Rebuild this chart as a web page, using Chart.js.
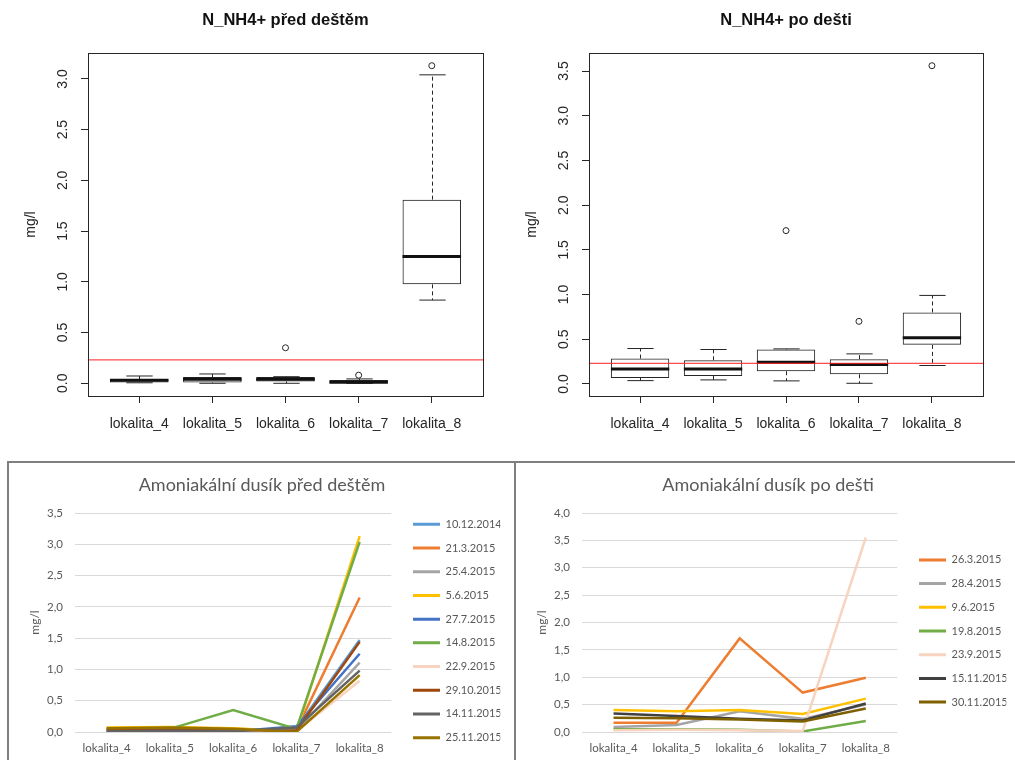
<!DOCTYPE html>
<html>
<head>
<meta charset="utf-8">
<script src="https://cdn.jsdelivr.net/npm/chart.js@4"></script>
<style>
  html, body { margin: 0; padding: 0; background: #fff; }
  body { width: 1015px; height: 760px; overflow: hidden; position: relative; }
  canvas { position: absolute; }
  #frame { position: absolute; left: 7px; top: 461px; width: 1020px; height: 400px;
           border-top: 2px solid #7f7f7f; border-left: 2px solid #7f7f7f; }
  #divider { position: absolute; left: 514px; top: 461px; width: 2px; height: 400px; background: #7f7f7f; }
</style>
</head>
<body>
<canvas id="boxBefore" width="507" height="440" style="left:0;top:0"></canvas>
<canvas id="boxAfter" width="508" height="440" style="left:507px;top:0"></canvas>
<div id="frame"></div>
<div id="divider"></div>
<canvas id="lineBefore" width="504" height="336" style="left:9px;top:463px"></canvas>
<canvas id="lineAfter" width="499" height="336" style="left:516px;top:463px"></canvas>
<script>
// ---- sampling sites ----
const sites = ['lokalita_4', 'lokalita_5', 'lokalita_6', 'lokalita_7', 'lokalita_8'];

// ---- N_NH4+ box plot statistics, before rain ----
const beforeLow  = [0.005, 0.0,   0.0,   0.0,   0.82];
const beforeQ1   = [0.008, 0.008, 0.018, 0.0,   0.975];
const beforeMed  = [0.03,  0.04,  0.04,  0.01,  1.25];
const beforeQ3   = [0.042, 0.062, 0.062, 0.032, 1.81];
const beforeHigh = [0.072, 0.092, 0.065, 0.043, 3.04];
const beforeOut  = [null,  null,  0.35,  0.08,  3.13];

// ---- N_NH4+ box plot statistics, after rain ----
const afterLow  = [0.037, 0.045, 0.034, 0.007, 0.206];
const afterQ1   = [0.067, 0.09,  0.142, 0.108, 0.437];
const afterMed  = [0.168, 0.168, 0.243, 0.217, 0.516];
const afterQ3   = [0.284, 0.265, 0.385, 0.277, 0.80];
const afterHigh = [0.396, 0.385, 0.392, 0.336, 0.99];
const afterOut  = [null,  null,  1.715, 0.70,  3.56];

// limit value drawn as the red reference line
const limitNH4 = 0.23;

const boxTicksBefore = [0, 0.5, 1, 1.5, 2, 2.5, 3];
const boxTicksAfter  = [0, 0.5, 1, 1.5, 2, 2.5, 3, 3.5];

// ---- ammonia nitrogen by sampling date, before rain (mg/l) ----
const datesBefore = ['10.12.2014', '21.3.2015', '25.4.2015', '5.6.2015', '27.7.2015',
                     '14.8.2015', '22.9.2015', '29.10.2015', '14.11.2015', '25.11.2015'];
const b20141210 = [0.02, 0.02, 0.02, 0.06, 1.47];
const b20150321 = [0.04, 0.05, 0.04, 0.03, 2.15];
const b20150425 = [0.03, 0.05, 0.05, 0.02, 1.11];
const b20150605 = [0.07, 0.08, 0.06, 0.01, 3.13];
const b20150727 = [0.01, 0.01, 0.01, 0.09, 1.25];
const b20150814 = [0.05, 0.05, 0.35, 0.05, 3.04];
const b20150922 = [0.03, 0.04, 0.03, 0.01, 0.82];
const b20151029 = [0.03, 0.03, 0.03, 0.02, 1.44];
const b20151114 = [0.01, 0.02, 0.01, 0.07, 0.98];
const b20151125 = [0.06, 0.07, 0.05, 0.00, 0.91];

// ---- ammonia nitrogen by sampling date, after rain (mg/l) ----
const datesAfter = ['26.3.2015', '28.4.2015', '9.6.2015', '19.8.2015', '23.9.2015', '15.11.2015', '30.11.2015'];
const a20150326 = [0.17, 0.17, 1.71, 0.72, 0.99];
const a20150428 = [0.09, 0.13, 0.38, 0.24, 0.50];
const a20150609 = [0.40, 0.38, 0.40, 0.33, 0.61];
const a20150819 = [0.05, 0.05, 0.04, 0.01, 0.20];
const a20150923 = [0.03, 0.04, 0.03, 0.02, 3.55];
const a20151115 = [0.34, 0.29, 0.24, 0.21, 0.52];
const a20151130 = [0.26, 0.25, 0.23, 0.19, 0.43];

// ---- series colours ----
const colorsBefore = ['#5B9BD5', '#ED7D31', '#A5A5A5', '#FFC000', '#4472C4',
                      '#70AD47', '#F8D3BF', '#9E480E', '#636363', '#997300'];
const colorsAfter  = ['#ED7D31', '#A5A5A5', '#FFC000', '#70AD47', '#F8D3BF', '#404040', '#7F6000'];

// ---------------------------------------------------------------
// Box plots (R style)
// ---------------------------------------------------------------
const RFONT = 'Liberation Sans';
const INK = '#262626';

function whiskerPlugin(low, med, high, limit) {
  return {
    id: 'whiskers',
    afterDatasetsDraw(chart) {
      const { ctx, chartArea: a, scales: { y } } = chart;
      const meta = chart.getDatasetMeta(0);
      ctx.save();
      meta.data.forEach((bar, i) => {
        const cx = Math.round(bar.x) + 0.5;
        const half = bar.width / 2;
        const cap = half * 0.45;
        const top = Math.min(bar.y, bar.base), bottom = Math.max(bar.y, bar.base);
        const yHi = y.getPixelForValue(high[i]);
        const yLo = y.getPixelForValue(low[i]);
        ctx.strokeStyle = INK;
        ctx.lineWidth = 1;
        ctx.setLineDash([4, 3]);
        ctx.beginPath();
        if (yHi < top) { ctx.moveTo(cx, top); ctx.lineTo(cx, yHi); }
        if (yLo > bottom) { ctx.moveTo(cx, bottom); ctx.lineTo(cx, yLo); }
        ctx.stroke();
        ctx.setLineDash([]);
        ctx.beginPath();
        ctx.moveTo(cx - cap, yHi); ctx.lineTo(cx + cap, yHi);
        ctx.moveTo(cx - cap, yLo); ctx.lineTo(cx + cap, yLo);
        ctx.stroke();
        ctx.lineWidth = 3;
        ctx.strokeStyle = '#111';
        const ym = y.getPixelForValue(med[i]);
        ctx.beginPath();
        ctx.moveTo(bar.x - half, ym); ctx.lineTo(bar.x + half, ym);
        ctx.stroke();
      });
      // limit line
      const yl = y.getPixelForValue(limit);
      ctx.strokeStyle = 'rgba(255,30,30,0.8)';
      ctx.lineWidth = 1.3;
      ctx.beginPath();
      ctx.moveTo(a.left, yl); ctx.lineTo(a.right, yl);
      ctx.stroke();
      // plot frame
      ctx.strokeStyle = INK;
      ctx.lineWidth = 1;
      ctx.strokeRect(Math.round(a.left) + 0.5, Math.round(a.top) + 0.5,
                     Math.round(a.width), Math.round(a.height));
      ctx.restore();
    }
  };
}

function boxChart(id, title, low, q1, med, q3, high, out, ticks, yWidth, padRight, ylabPad) {
  const vals = low.concat(high, out.filter(v => v !== null));
  const lo = Math.min(...vals), hi = Math.max(...vals);
  const ext = (hi - lo) * 0.04;
  const n = sites.length;
  const xExt = n * 0.04;
  new Chart(document.getElementById(id), {
    type: 'bar',
    data: {
      datasets: [
        {
          type: 'bar',
          data: q1.map((v, i) => ({ x: i + 1, y: [v, q3[i]] })),
          backgroundColor: 'rgba(255,255,255,0)',
          borderColor: INK,
          borderWidth: 1,
          borderSkipped: false,
          categoryPercentage: 0.8,
          barPercentage: 1
        },
        {
          type: 'scatter',
          data: out.map((v, i) => (v === null ? null : { x: i + 1, y: v })).filter(Boolean),
          pointRadius: 3,
          pointBorderWidth: 1,
          pointBorderColor: INK,
          pointBackgroundColor: 'rgba(0,0,0,0)',
          showLine: false
        }
      ]
    },
    options: {
      animation: false,
      responsive: false,
      events: [],
      layout: { padding: { right: padRight } },
      plugins: {
        legend: { display: false },
        tooltip: { enabled: false },
        title: {
          display: true, text: title, fullSize: false, color: '#111',
          font: { family: RFONT, size: 16.5, weight: 'bold' },
          padding: { top: 10.1, bottom: 23.1 }
        }
      },
      scales: {
        x: {
          type: 'linear', min: 0.5 - xExt, max: n + 0.5 + xExt, offset: false, bounds: 'data',
          afterBuildTicks: s => { s.ticks = sites.map((_, i) => ({ value: i + 1 })); },
          afterFit: s => { s.height = 44; },
          ticks: {
            callback: v => sites[Math.round(v) - 1],
            font: { family: RFONT, size: 14 }, color: INK, padding: 13,
            autoSkip: false, maxRotation: 0
          },
          grid: { drawOnChartArea: false, drawTicks: true, tickLength: 7, color: INK, offset: false },
          border: { display: true, color: INK }
        },
        y: {
          min: lo - ext, max: hi + ext, bounds: 'data',
          afterBuildTicks: s => { s.ticks = ticks.map(v => ({ value: v })); },
          afterFit: s => { s.width = yWidth; },
          ticks: {
            callback: v => v.toFixed(1),
            minRotation: 90, maxRotation: 90, crossAlign: 'center', padding: 8,
            font: { family: RFONT, size: 14 }, color: INK
          },
          grid: { drawOnChartArea: false, drawTicks: true, tickLength: 7, color: INK },
          border: { display: true, color: INK },
          title: {
            display: true, text: 'mg/l', color: INK,
            font: { family: RFONT, size: 14 }, padding: { top: ylabPad, bottom: 0 }
          }
        }
      }
    },
    plugins: [whiskerPlugin(low, med, high, limitNH4)]
  });
}

boxChart('boxBefore', 'N_NH4+ před deštěm', beforeLow, beforeQ1, beforeMed, beforeQ3, beforeHigh,
         beforeOut, boxTicksBefore, 88, 24, 22.6);
boxChart('boxAfter', 'N_NH4+ po dešti', afterLow, afterQ1, afterMed, afterQ3, afterHigh,
         afterOut, boxTicksAfter, 82, 32, 16.6);

// ---------------------------------------------------------------
// Line charts (spreadsheet style)
// ---------------------------------------------------------------
const XFONT = 'Lato';
const GREY = '#595959';

function lineChart(id, title, names, colors, values, yMax, padLeft, padRight) {
  new Chart(document.getElementById(id), {
    type: 'line',
    data: {
      labels: sites,
      datasets: names.map((nm, i) => ({
        label: nm,
        data: values[i],
        borderColor: colors[i],
        backgroundColor: colors[i],
        borderWidth: 2.5,
        pointRadius: 0,
        tension: 0,
        fill: false,
        order: names.length - i
      }))
    },
    options: {
      animation: false,
      responsive: false,
      events: [],
      layout: { padding: { left: padLeft, right: padRight } },
      plugins: {
        tooltip: { enabled: false },
        title: {
          display: true, text: title, color: GREY,
          font: { family: XFONT, size: 18, weight: 'normal' },
          padding: { top: 11.2, bottom: 17.2 }
        },
        legend: {
          position: 'right',
          reverse: true,
          maxWidth: 100,
          labels: {
            boxWidth: 27, boxHeight: 3, padding: 12.7, color: GREY,
            font: { family: XFONT, size: 11 },
            generateLabels: ch => Chart.defaults.plugins.legend.labels.generateLabels(ch)
              .map(it => Object.assign({}, it, { fillStyle: it.strokeStyle, lineWidth: 0 }))
          }
        }
      },
      scales: {
        x: {
          offset: true,
          grid: { display: false, drawTicks: false },
          border: { display: false },
          ticks: { color: GREY, font: { family: XFONT, size: 11.5 }, padding: 9, maxRotation: 0, autoSkip: false },
          afterFit: s => { s.height = 67; }
        },
        y: {
          min: 0, max: yMax,
          ticks: {
            stepSize: 0.5, padding: 12, color: GREY,
            font: { family: XFONT, size: 11.5 },
            callback: v => v.toFixed(1).replace('.', ',')
          },
          grid: { color: '#d9d9d9', drawTicks: false },
          border: { display: false },
          afterFit: s => { s.width = 66 - padLeft; },
          title: {
            display: true, text: 'mg/l', color: GREY,
            font: { family: XFONT, size: 12 }, padding: { top: 19 - padLeft, bottom: 0 }
          }
        },
        gap: {
          type: 'linear', position: 'right', display: true,
          grid: { display: false, drawTicks: false }, border: { display: false }, ticks: { display: false },
          afterFit: s => { s.width = 9; }
        }
      }
    }
  });
}

lineChart('lineBefore', 'Amoniakální dusík před deštěm', datesBefore, colorsBefore,
  [b20141210, b20150321, b20150425, b20150605, b20150727, b20150814, b20150922, b20151029, b20151114, b20151125],
  3.5, 14.7, 12.7);
lineChart('lineAfter', 'Amoniakální dusík po dešti', datesAfter, colorsAfter,
  [a20150326, a20150428, a20150609, a20150819, a20150923, a20151115, a20151130],
  4.0, 13.7, 8.7);
</script>
</body>
</html>
